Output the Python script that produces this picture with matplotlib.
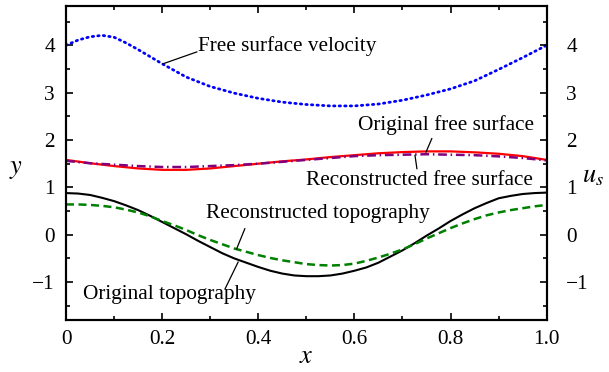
import matplotlib
matplotlib.use("Agg")
import matplotlib.pyplot as plt
from matplotlib.ticker import MultipleLocator

plt.rcParams['font.family'] = ['Liberation Serif', 'DejaVu Serif']
plt.rcParams['mathtext.fontset'] = 'stix'

x_topo = [0.0, 0.025, 0.05, 0.075, 0.1, 0.125, 0.15, 0.175, 0.2, 0.225, 0.25, 0.275,
          0.3, 0.325, 0.35, 0.375, 0.4, 0.425, 0.45, 0.475, 0.5, 0.525, 0.55, 0.575,
          0.6, 0.625, 0.65, 0.675, 0.7, 0.725, 0.75, 0.775, 0.8, 0.825, 0.85, 0.875,
          0.9, 0.925, 0.95, 0.975, 1.0]
orig_topo = [0.88, 0.87, 0.84, 0.78, 0.71, 0.62, 0.52, 0.40, 0.27, 0.14, 0.01, -0.13,
             -0.26, -0.39, -0.50, -0.59, -0.68, -0.76, -0.82, -0.86, -0.875, -0.875, -0.86, -0.82,
             -0.76, -0.69, -0.59, -0.46, -0.33, -0.18, -0.02, 0.13, 0.29, 0.43, 0.56, 0.67,
             0.77, 0.82, 0.86, 0.88, 0.89]
recon_topo = [0.64, 0.64, 0.63, 0.61, 0.58, 0.53, 0.47, 0.39, 0.29, 0.20, 0.10, -0.01,
              -0.11, -0.20, -0.29, -0.36, -0.43, -0.49, -0.54, -0.58, -0.62, -0.64, -0.65, -0.64,
              -0.61, -0.55, -0.48, -0.40, -0.31, -0.20, -0.08, 0.03, 0.14, 0.24, 0.33, 0.41,
              0.47, 0.52, 0.56, 0.60, 0.63]
x_fs = [0.0, 0.05, 0.1, 0.15, 0.2, 0.25, 0.3, 0.35, 0.4, 0.45, 0.5,
        0.55, 0.6, 0.65, 0.7, 0.75, 0.8, 0.85, 0.9, 0.95, 1.0]
orig_fs = [1.58, 1.51, 1.45, 1.40, 1.37, 1.37, 1.40, 1.45, 1.50, 1.55, 1.59,
           1.64, 1.68, 1.72, 1.745, 1.76, 1.76, 1.74, 1.71, 1.66, 1.58]
recon_fs = [1.56, 1.51, 1.48, 1.45, 1.43, 1.43, 1.45, 1.47, 1.50, 1.54, 1.58,
            1.62, 1.66, 1.68, 1.69, 1.70, 1.69, 1.68, 1.655, 1.62, 1.57]
x_vel = [0.0, 0.025, 0.05, 0.075, 0.1, 0.125, 0.15, 0.2, 0.25, 0.3, 0.35, 0.4, 0.45,
         0.5, 0.55, 0.6, 0.65, 0.7, 0.75, 0.8, 0.85, 0.9, 0.95, 1.0]
velocity = [4.00, 4.11, 4.18, 4.21, 4.17, 4.05, 3.91, 3.61, 3.33, 3.13, 2.99, 2.88, 2.80,
            2.75, 2.72, 2.72, 2.76, 2.84, 2.95, 3.08, 3.25, 3.49, 3.74, 4.00]
xtick_vals = [0, 0.2, 0.4, 0.6, 0.8, 1.0]
xtick_labels = ['0', '0.2', '0.4', '0.6', '0.8', '1.0']

fig = plt.figure(figsize=(6.09, 3.72), dpi=100)
ax = fig.add_axes([0.1084, 0.1398, 0.7893, 0.8441])

ax.plot(x_vel, velocity, color='#0000ff', lw=2.0, linestyle=(0, (0.5, 1.5)),
        dash_capstyle='round')
ax.plot(x_fs, orig_fs, color='#ff0000', lw=1.6)
ax.plot(x_fs, recon_fs, color='#800080', lw=1.8, linestyle=(0, (3.5, 1.5, 0.6, 1.5)))
ax.plot(x_topo, orig_topo, color='black', lw=1.5)
ax.plot(x_topo, recon_topo, color='#008000', lw=1.8, linestyle=(0, (3.2, 1.8)))

ax.set_xlim(0, 1)
ax.set_ylim(-1.8, 4.83)

fs = 15.3
ax.xaxis.set_minor_locator(MultipleLocator(0.1))
ax.yaxis.set_major_locator(MultipleLocator(1))
ax.yaxis.set_minor_locator(MultipleLocator(0.5))
ax.set_xticks(xtick_vals)
ax.set_xticklabels(xtick_labels)
ax.tick_params(which='both', direction='in', top=True, right=False, labelsize=fs, width=1.2)
ax.tick_params(which='major', length=5)
ax.tick_params(which='minor', length=3)
ax.tick_params(axis='y', pad=8)
ax.tick_params(axis='x', pad=7)
for s in ax.spines.values():
    s.set_linewidth(1.5)

ax2 = ax.twinx()
ax2.set_ylim(ax.get_ylim())
ax2.yaxis.set_major_locator(MultipleLocator(1))
ax2.yaxis.set_minor_locator(MultipleLocator(0.5))
ax2.tick_params(which='both', direction='in', labelsize=fs, width=1.2, pad=14)
ax2.tick_params(which='major', length=5)
ax2.tick_params(which='minor', length=3)
for s in ax2.spines.values():
    s.set_linewidth(1.5)

fig.text(16 / 609, 1 - 170 / 372, r'$y$', fontsize=19, ha='center', va='center')
fig.text(593 / 609, 1 - 177 / 372, r'$u_s$', fontsize=19, ha='center', va='center')
fig.text(306 / 609, 1 - 357 / 372, r'$x$', fontsize=19, ha='center', va='center')

lp = dict(color='black', lw=0.9)
ax.text(0.275, 3.98, 'Free surface velocity', fontsize=fs, ha='left', va='center')
ax.plot([0.272, 0.202], [3.86, 3.61], **lp)
ax.text(0.79, 2.31, 'Original free surface', fontsize=fs, ha='center', va='center')
ax.plot([0.761, 0.749], [2.03, 1.746], **lp)
ax.text(0.736, 1.148, 'Reconstructed free surface', fontsize=fs, ha='center', va='center')
ax.plot([0.726, 0.730], [1.676, 1.395], **lp)
ax.text(0.523, 0.444, 'Reconstructed topography', fontsize=fs, ha='center', va='center')
ax.plot([0.372, 0.355], [0.127, -0.296], **lp)
ax.text(0.216, -1.268, 'Original topography', fontsize=fs, ha='center', va='center')
ax.plot([0.358, 0.331], [-0.578, -1.14], **lp)

fig.savefig('out.png', dpi=100)
